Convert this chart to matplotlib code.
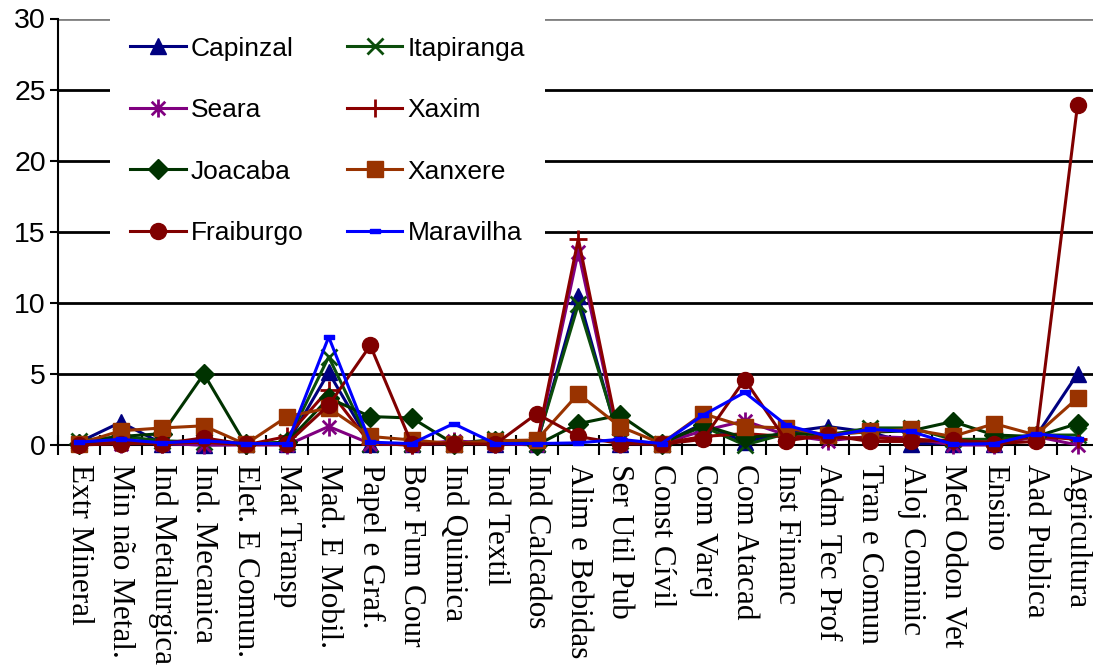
import numpy as np
import matplotlib
matplotlib.use("Agg")
import matplotlib.pyplot as plt
from matplotlib.path import Path

# sectors on the x axis
setores = ["Extr Mineral", "Min não Metal.", "Ind Metalurgica", "Ind. Mecanica",
           "Elet. E Comun.", "Mat Transp", "Mad. E Mobil.", "Papel e Graf.",
           "Bor Fum Cour", "Ind Quimica", "Ind Textil", "Ind Calcados",
           "Alim e Bebidas", "Ser Util Pub", "Const Cívil", "Com Varej",
           "Com Atacad", "Inst Financ", "Adm Tec Prof", "Tran e Comun",
           "Aloj Cominic", "Med Odon Vet", "Ensino", "Aad Publica", "Agricultura"]

capinzal = [0.2, 1.6, 0.1, 0.0, 0.05, 0.1, 5.1, 0.1, 0.05, 0.1, 0.1, 0.05, 10.5,
            0.1, 0.1, 1.5, 0.2, 0.9, 1.3, 0.9, 0.1, 0.1, 0.1, 0.6, 5.0]
itapiranga = [0.3, 0.6, 0.3, 0.2, 0.05, 0.2, 6.2, 0.1, 0.1, 0.1, 0.4, 0.1, 9.9,
              0.3, 0.1, 1.3, 0.0, 0.8, 0.7, 1.2, 1.2, 0.4, 0.4, 0.7, 0.7]
seara = [0.1, 0.1, 0.1, 0.0, 0.0, 0.0, 1.3, 0.1, 0.0, 0.3, 0.1, 0.0, 13.6,
         0.1, 0.1, 1.0, 1.7, 0.7, 0.3, 0.6, 0.5, 0.0, 0.0, 0.6, 0.0]
xaxim = [0.1, 0.2, 0.1, 0.2, 0.0, 0.6, 3.9, 0.1, 0.0, 0.2, 0.1, 0.1, 14.5,
         0.2, 0.1, 0.6, 0.8, 0.6, 0.5, 0.5, 0.4, 0.3, 0.2, 0.6, 0.4]
joacaba = [0.1, 0.6, 0.8, 5.0, 0.05, 0.2, 3.3, 2.0, 1.9, 0.1, 0.3, 0.0, 1.5,
           2.1, 0.1, 1.4, 0.5, 0.8, 0.8, 0.9, 1.0, 1.65, 0.7, 0.6, 1.5]
xanxere = [0.1, 1.0, 1.2, 1.35, 0.05, 2.0, 2.6, 0.6, 0.35, 0.1, 0.3, 0.35, 3.6,
           1.3, 0.1, 2.2, 1.3, 1.2, 0.7, 0.95, 1.1, 0.6, 1.5, 0.7, 3.3]
fraiburgo = [0.0, 0.1, 0.1, 0.5, 0.05, 0.1, 2.8, 7.0, 0.05, 0.1, 0.05, 2.2, 0.6,
             0.1, 0.05, 0.4, 4.6, 0.3, 0.7, 0.25, 0.25, 0.35, 0.1, 0.25, 23.9]
maravilha = [0.2, 0.4, 0.15, 0.3, 0.1, 0.1, 7.6, 0.2, 0.1, 1.5, 0.1, 0.1, 0.15,
             0.4, 0.1, 2.1, 3.7, 1.4, 0.6, 1.1, 0.95, 0.05, 0.1, 0.8, 0.45]

y_ticks = [0, 5, 10, 15, 20, 25, 30]

# excel style markers
asterisco = Path([(0, -1), (0, 1), (-0.75, -0.75), (0.75, 0.75), (-0.75, 0.75), (0.75, -0.75)],
                 [Path.MOVETO, Path.LINETO] * 3)
traco = Path([(-1, -0.45), (1, -0.45), (1, 0.45), (-1, 0.45), (-1, -0.45)],
             [Path.MOVETO, Path.LINETO, Path.LINETO, Path.LINETO, Path.CLOSEPOLY])

series = [
    ("Capinzal", capinzal, "#000080", "^", 11, 1),
    ("Itapiranga", itapiranga, "#0b4d0b", "x", 11, 2),
    ("Seara", seara, "#800080", asterisco, 13, 2),
    ("Xaxim", xaxim, "#8b0000", "+", 13, 2),
    ("Joacaba", joacaba, "#003300", "D", 10, 1),
    ("Xanxere", xanxere, "#993300", "s", 11, 1),
    ("Fraiburgo", fraiburgo, "#800000", "o", 11.5, 1),
    ("Maravilha", maravilha, "#0000ff", traco, 7.5, 1),
]

fig = plt.figure(figsize=(10.93, 6.72), dpi=100)
ax = fig.add_axes([58.3 / 1093, (672 - 445) / 672, 1040 / 1093, 426.5 / 672])

x = np.arange(len(setores))
handles = {}
for nome, vals, cor, mk, ms, mew in series:
    ln, = ax.plot(x, vals, color=cor, lw=2.2, marker=mk, ms=ms, mfc=cor, mec=cor,
                  mew=mew, label=nome, clip_on=False, zorder=3)
    handles[nome] = ln

# horizontal gridlines, top one grey
for v in y_ticks[1:]:
    ax.axhline(v, color="#808080" if v == 30 else "black", lw=2, zorder=1)

ax.set_xlim(-0.5, len(setores) - 0.5)
ax.set_ylim(0, 30)
ax.set_yticks(y_ticks)
ax.set_yticklabels([str(v) for v in y_ticks], fontfamily="Liberation Sans", fontsize=20.5)
ax.tick_params(axis="y", direction="out", length=6, width=1.5, pad=3)

ax.set_xticks(x)
ax.set_xticklabels(setores, rotation=-90, fontfamily="Liberation Serif", fontsize=22.5,
                   va="top", ha="center")
ax.tick_params(axis="x", which="major", length=0, pad=14)
ax.set_xticks(np.arange(-0.5, len(setores), 1), minor=True)
ax.tick_params(axis="x", which="minor", direction="inout", length=14, width=1.5)

for s in ["top", "right"]:
    ax.spines[s].set_visible(False)
for s in ["left", "bottom"]:
    ax.spines[s].set_linewidth(1.5)
    ax.spines[s].set_zorder(2)

ordem = ["Capinzal", "Seara", "Joacaba", "Fraiburgo",
         "Itapiranga", "Xaxim", "Xanxere", "Maravilha"]
leg = ax.legend([handles[n] for n in ordem], ordem, ncol=2, loc="upper left",
                bbox_to_anchor=(0.05, 1.004), borderaxespad=0, frameon=True,
                facecolor="white", edgecolor="none", framealpha=1, fancybox=False,
                prop={"family": "Liberation Sans", "size": 19},
                handlelength=2.1, handletextpad=0.2, columnspacing=1.65,
                labelspacing=1.42, borderpad=0.75)
leg.set_zorder(5)

fig.savefig("out.png", dpi=100)
